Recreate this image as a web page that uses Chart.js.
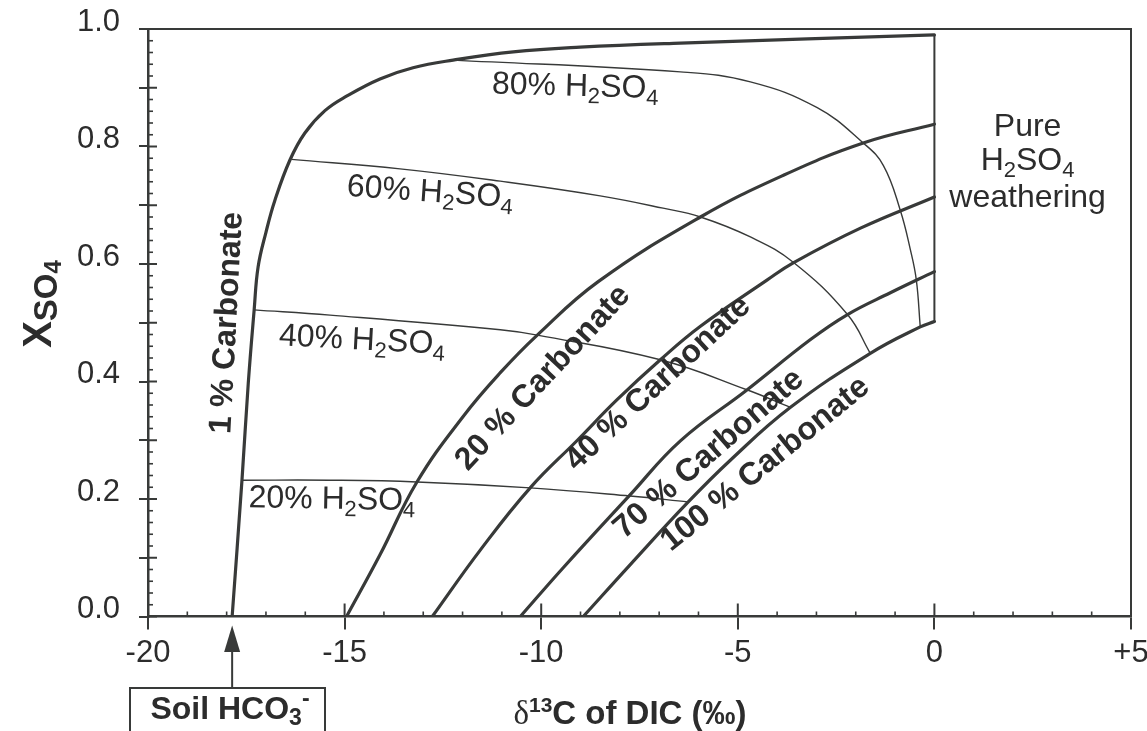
<!DOCTYPE html>
<html><head><meta charset="utf-8">
<script src="https://cdn.jsdelivr.net/npm/chart.js@4.4.1/dist/chart.umd.min.js"></script>
<style>html,body{margin:0;padding:0;background:#fff;}#wrap{width:1147px;height:731px;position:relative;}</style>
</head><body><div id="wrap"><canvas id="c" width="1147" height="731" style="width:1147px;height:731px"></canvas></div>
<script>
// ---- tick labels ----
const xTickValues = [-20, -15, -10, -5, 0, 5];
const xTickLabels = ['-20', '-15', '-10', '-5', '0', '+5'];
const yTickLabels = ['0.0', '0.2', '0.4', '0.6', '0.8', '1.0'];

// ---- carbonate mixing curves (x = d13C of DIC, y = X_SO4) ----
const carb1X = [-17.86, -17.61, -17.45, -17.30, -17.20, -17.00, -16.77, -16.39, -16.01, -15.50, -14.94, -14.10, -13.26, -12.24, -10.71, -9.01, -6.46, 0];
const carb1Y = [0, 0.232, 0.397, 0.522, 0.595, 0.654, 0.709, 0.777, 0.823, 0.861, 0.886, 0.915, 0.934, 0.947, 0.961, 0.969, 0.976, 0.990];
const carb20X = [-14.95, -14.10, -13.16, -11.98, -11.04, -10.10, -8.55, -5.95, -3.84, -1.81, 0];
const carb20Y = [0, 0.105, 0.229, 0.341, 0.415, 0.479, 0.570, 0.680, 0.751, 0.806, 0.838];
const carb40X = [-12.77, -11.55, -10.28, -9.08, -8.07, -6.97, -5.95, -4.25, -3.59, -1.88, 0];
const carb40Y = [0, 0.113, 0.219, 0.300, 0.369, 0.437, 0.494, 0.573, 0.602, 0.661, 0.714];
const carb70X = [-10.53, -9.44, -7.74, -6.46, -4.76, -3.16, -2.21, -1.12, 0];
const carb70Y = [0, 0.083, 0.207, 0.299, 0.386, 0.471, 0.514, 0.551, 0.587];
const carb100X = [-8.93, -7.74, -6.26, -5.19, -3.66, -1.63, -0.36, 0];
const carb100Y = [0, 0.088, 0.195, 0.266, 0.356, 0.448, 0.493, 0.502];

// ---- H2SO4 iso-lines ----
const h20X = [-17.61, -15.37, -13.16, -10.28, -7.74, -6.26];
const h20Y = [0.232, 0.232, 0.229, 0.219, 0.205, 0.195];
const h40X = [-17.30, -15.37, -11.04, -10.10, -6.97, -4.77, -3.66];
const h40Y = [0.522, 0.513, 0.488, 0.479, 0.437, 0.386, 0.356];
const h60X = [-16.35, -13.59, -11.04, -8.50, -6.90, -5.95, -4.68, -3.59, -2.21, -1.63];
const h60Y = [0.778, 0.762, 0.741, 0.716, 0.695, 0.680, 0.646, 0.603, 0.514, 0.448];
const h80X = [-12.24, -6.46, -4.68, -2.98, -1.81, -1.30, -0.87, -0.61, -0.46, -0.36];
const h80Y = [0.947, 0.927, 0.910, 0.866, 0.806, 0.768, 0.692, 0.624, 0.573, 0.493];

// ---- pure H2SO4 weathering edge at x = 0 ----
const edgeX = [0, 0];
const edgeY = [0.502, 0.990];

// soil HCO3- end-member
const soilHCO3 = -17.86;

const INK = '#383a39';
const TXT = '#2c2c2c';
const SANS = "'Liberation Sans', Arimo, Arial, Helvetica, sans-serif";
const SERIF = "'Liberation Serif', 'DejaVu Serif', serif";

function pts(xs, ys) { return xs.map((x, i) => ({ x: x, y: ys[i] })); }
function thick(xs, ys) {
  return { data: pts(xs, ys), showLine: true, borderColor: INK, borderWidth: 3.2, pointRadius: 0,
           tension: 0.42, borderCapStyle: 'round', borderJoinStyle: 'round' };
}
function thin(xs, ys) {
  return { data: pts(xs, ys), showLine: true, borderColor: INK, borderWidth: 1.4, pointRadius: 0,
           tension: 0.42 };
}

function font(r, base) {
  const size = r.size || base;
  return (r.bold ? 'bold ' : '') + size + 'px ' + (r.family || SANS);
}
function rich(ctx, runs, cx, cy, rot, base) {
  ctx.save();
  ctx.translate(cx, cy);
  ctx.rotate(rot * Math.PI / 180);
  ctx.textBaseline = 'alphabetic';
  ctx.textAlign = 'left';
  let total = 0;
  const ws = runs.map(r => { ctx.font = font(r, base); const w = ctx.measureText(r.t).width; total += w; return w; });
  let x = -total / 2;
  const bl = base * 0.36;
  runs.forEach((r, i) => { ctx.font = font(r, base); ctx.fillText(r.t, x, bl + (r.dy || 0)); x += ws[i]; });
  ctx.restore();
}
function h2so4(pre, size) {
  const s = Math.round(size * 0.7), d = size * 0.22;
  return [{ t: pre + 'H' }, { t: '2', size: s, dy: d }, { t: 'SO' }, { t: '4', size: s, dy: d }];
}

const annotations = [
  { runs: h2so4('80% ', 32), x: -9.13, y: 0.906, rot: 1.5, size: 32 },
  { runs: h2so4('60% ', 32), x: -12.82, y: 0.726, rot: 4, size: 32 },
  { runs: h2so4('40% ', 32), x: -14.55, y: 0.474, rot: 3, size: 32 },
  { runs: h2so4('20% ', 32), x: -15.32, y: 0.203, rot: 1, size: 32 },
  { runs: [{ t: 'Pure' }], x: 2.37, y: 0.837, rot: 0, size: 32 },
  { runs: h2so4('', 32), x: 2.37, y: 0.780, rot: 0, size: 32 },
  { runs: [{ t: 'weathering' }], x: 2.37, y: 0.716, rot: 0, size: 32 },
  { runs: [{ t: '1 % Carbonate', bold: true }], x: -18.05, y: 0.500, rot: -87, size: 32 },
  { runs: [{ t: '20 % Carbonate', bold: true }], x: -10.0, y: 0.409, rot: -47, size: 32 },
  { runs: [{ t: '40 % Carbonate', bold: true }], x: -7.07, y: 0.400, rot: -43, size: 32 },
  { runs: [{ t: '70 % Carbonate', bold: true }], x: -5.78, y: 0.280, rot: -41, size: 32 },
  { runs: [{ t: '100 % Carbonate', bold: true }], x: -4.34, y: 0.263, rot: -39, size: 32 }
];

const decor = {
  id: 'decor',
  afterDraw(chart) {
    const ctx = chart.ctx, a = chart.chartArea, xs = chart.scales.x, ys = chart.scales.y;
    ctx.save();
    ctx.strokeStyle = INK;
    ctx.lineCap = 'butt';
    // top & right frame
    ctx.lineWidth = 2;
    ctx.beginPath();
    ctx.moveTo(a.left, a.top); ctx.lineTo(a.right, a.top);
    ctx.moveTo(a.right, a.top - 1); ctx.lineTo(a.right, a.bottom);
    ctx.stroke();
    // inner ticks on x axis
    for (let v = -20; v <= 5; v++) {
      const px = xs.getPixelForValue(v);
      const major = v % 5 === 0;
      ctx.lineWidth = major ? 2 : 1.6;
      ctx.beginPath(); ctx.moveTo(px, a.bottom); ctx.lineTo(px, a.bottom - (major ? 13 : 5)); ctx.stroke();
    }
    // inner ticks on y axis
    for (let k = 0; k <= 50; k++) {
      const py = ys.getPixelForValue(k / 50);
      const major = k % 5 === 0;
      ctx.lineWidth = major ? 2 : 1.6;
      ctx.beginPath(); ctx.moveTo(a.left, py); ctx.lineTo(a.left + (major ? 9 : 5), py); ctx.stroke();
    }
    // annotations
    ctx.fillStyle = TXT;
    annotations.forEach(an => {
      rich(ctx, an.runs, xs.getPixelForValue(an.x), ys.getPixelForValue(an.y), an.rot, an.size);
    });
    // axis titles
    rich(ctx, [{ t: 'X', bold: true }, { t: 'SO', bold: true, size: 33, dy: 6 }, { t: '4', bold: true, size: 24, dy: 10 }],
         37, 304, -90, 40);
    rich(ctx, [{ t: 'δ', family: SERIF, size: 33 }, { t: '13', bold: true, size: 21, dy: -12 }, { t: 'C of DIC (‰)', bold: true }],
         630, 712, 0, 33);
    // soil HCO3- arrow and box
    const sx = xs.getPixelForValue(soilHCO3);
    ctx.lineWidth = 2;
    ctx.beginPath(); ctx.moveTo(sx, 688); ctx.lineTo(sx, 648); ctx.stroke();
    ctx.fillStyle = INK;
    ctx.beginPath(); ctx.moveTo(sx, a.bottom + 9); ctx.lineTo(sx - 8, 652); ctx.lineTo(sx + 8, 652); ctx.closePath(); ctx.fill();
    ctx.strokeRect(130, 688, 195, 60);
    ctx.fillStyle = TXT;
    rich(ctx, [{ t: 'Soil HCO', bold: true }, { t: '3', bold: true, size: 23, dy: 6 }, { t: '-', bold: true, size: 23, dy: -13 }],
         230, 707, 0, 32);
    ctx.restore();
  }
};

const tickFont = { size: 31, family: SANS };

new Chart(document.getElementById('c'), {
  type: 'scatter',
  data: {
    datasets: [
      thick(carb1X, carb1Y), thick(carb20X, carb20Y), thick(carb40X, carb40Y),
      thick(carb70X, carb70Y), thick(carb100X, carb100Y),
      thin(h20X, h20Y), thin(h40X, h40Y), thin(h60X, h60Y), thin(h80X, h80Y),
      { data: pts(edgeX, edgeY), showLine: true, borderColor: INK, borderWidth: 2, pointRadius: 0 }
    ]
  },
  options: {
    responsive: false,
    animation: false,
    devicePixelRatio: 1,
    layout: { padding: { left: 0, right: 16, top: 29, bottom: 0 } },
    plugins: { legend: { display: false }, tooltip: { enabled: false } },
    scales: {
      x: {
        type: 'linear', min: -20, max: 5,
        ticks: {
          stepSize: 5, color: TXT, font: tickFont, padding: 5, maxRotation: 0,
          callback: v => { const i = xTickValues.indexOf(v); return i >= 0 ? xTickLabels[i] : ''; }
        },
        grid: { drawOnChartArea: false, drawTicks: true, tickLength: 13, color: INK, lineWidth: 2 },
        border: { display: true, color: INK, width: 2.5 },
        afterFit: s => { s.height = 114.5; s.paddingLeft = 0; s.paddingRight = 0; }
      },
      y: {
        type: 'linear', min: 0, max: 1,
        ticks: {
          stepSize: 0.1, color: TXT, font: tickFont, padding: 19, labelOffset: -7,
          callback: v => { const k = Math.round(v * 10); return k % 2 === 0 ? yTickLabels[k / 2] : ''; }
        },
        grid: { drawOnChartArea: false, drawTicks: true, tickLength: 9, color: INK, lineWidth: 2 },
        border: { display: true, color: INK, width: 2.5 },
        afterFit: s => { s.width = 148; s.paddingTop = 0; s.paddingBottom = 0; }
      }
    }
  },
  plugins: [decor]
});
</script>
</body></html>
